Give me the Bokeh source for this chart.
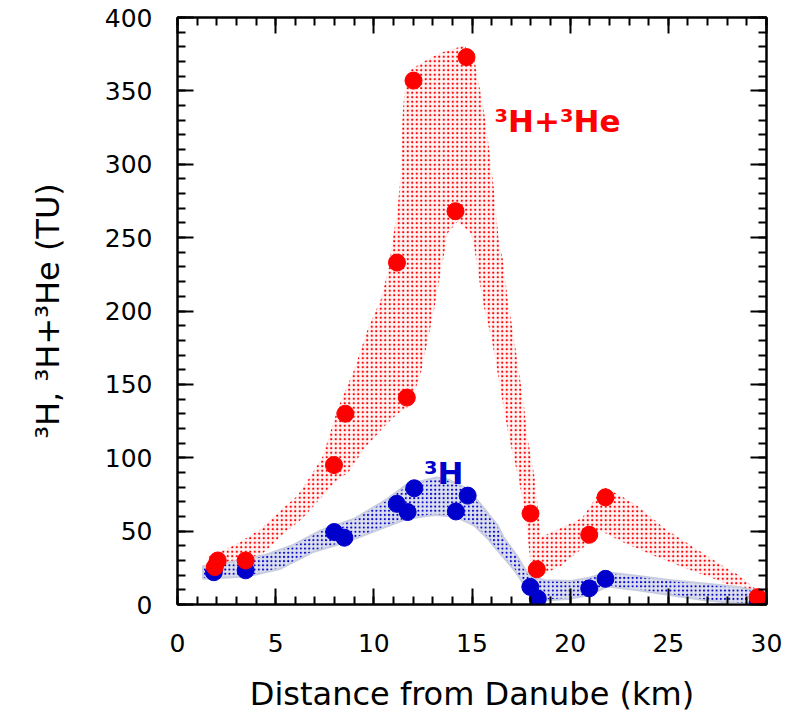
from bokeh.plotting import figure
from bokeh.models import LinearAxis, SingleIntervalTicker, Range1d, CustomJSTickFormatter
from bokeh.core.properties import value
from bokeh.embed import file_html
from bokeh.resources import INLINE

# ---- data ----
# 3H + 3He measurements (TU)
red_x = [1.9, 2.05, 3.47, 7.97, 8.55, 11.18, 11.68, 12.02, 14.16, 14.72, 17.98, 18.3, 20.97, 21.8, 29.55]
red_y = [25.5, 30.0, 30.0, 95.0, 130.0, 233.0, 141.0, 357.0, 268.0, 373.0, 62.0, 24.0, 47.5, 73.0, 5.0]

# 3H measurements (TU)
blue_x = [1.85, 3.47, 7.98, 8.5, 11.17, 11.72, 12.06, 14.18, 14.78, 17.97, 18.35, 20.97, 21.8, 29.55]
blue_y = [22.0, 23.3, 49.4, 45.5, 68.6, 63.0, 79.2, 63.4, 74.2, 12.0, 4.0, 11.0, 17.5, 1.5]

# envelope of the 3H+3He band
red_up_x = [1.5, 2.5, 3.0, 4.2, 5.4, 6.1, 6.8, 7.4, 8.15, 9.0, 9.7, 10.36, 10.7, 10.95, 11.2, 11.4,
            11.45, 11.55, 11.75, 12.4, 13.4, 14.6, 15.1, 15.6, 15.9, 16.1, 16.35, 16.6, 16.8, 17.15,
            17.4, 17.65, 17.84, 18.2, 18.35, 18.5, 19.5, 20.6, 21.7, 22.6, 23.45, 24.8, 26.3, 27.7,
            28.6, 29.4, 29.9]
red_up_y = [32, 38, 41, 51, 66, 74, 88, 101, 133, 160, 188, 208, 226, 248, 268, 298,
            330, 348, 363, 369, 376, 381, 373, 337, 308, 285, 250, 233, 210, 181,
            158, 135, 113, 86, 67, 46, 52, 59, 80, 74, 67, 52, 39, 27,
            20, 11, 4]
red_lo_x = [1.5, 2.6, 3.5, 4.2, 5.4, 6.3, 7.0, 7.6, 8.15, 8.7, 9.5, 10.5, 11.2, 11.7, 12.1, 12.4,
            12.7, 13.1, 13.4, 13.6, 13.76, 14.27, 14.95, 15.1, 15.3, 15.6, 16.0, 16.3, 16.6, 16.9,
            17.3, 17.65, 17.84, 18.0, 18.2, 18.5, 19.5, 20.6, 21.6, 22.6, 24.3, 26.0, 27.7, 29.1, 29.9]
red_lo_y = [19, 19, 24, 33, 48, 58, 68, 77, 85, 90, 106, 121, 130, 134, 146, 158,
            177, 203, 226, 240, 253, 261, 253, 245, 226, 203, 181, 158, 135, 113,
            90, 67, 45, 27, 19, 20, 26, 38, 50, 43, 33, 24, 15.6, 6, 1]

# envelope of the 3H band
blue_up_x = [1.3, 2.7, 4.4, 5.8, 7.3, 9.0, 10.7, 11.7, 12.4, 13.2, 13.8, 14.6, 15.4, 16.3, 16.6,
             17.3, 17.7, 18.0, 18.7, 20.05, 20.9, 21.9, 23.45, 25.15, 26.85, 28.55, 29.6, 29.95]
blue_up_y = [26, 29, 33.5, 40, 50.5, 58.4, 72, 82, 84, 86.5, 85, 80, 69, 54, 46,
             33, 24, 19, 16.5, 16, 18, 22, 19.5, 16.5, 14.3, 12, 8.8, 4]
blue_lo_x = [1.3, 3.56, 5.25, 6.95, 8.66, 10.36, 11.7, 13.06, 14.1, 15.1, 15.8, 16.1, 17.15,
             17.84, 18.5, 20.05, 20.9, 21.9, 23.45, 25.15, 26.85, 28.55, 29.95]
blue_lo_y = [17.6, 19, 24.4, 36, 42.8, 51.6, 58.4, 61, 60, 54, 45, 40, 23.5,
             10, 2.5, 4, 6.3, 12.2, 9.7, 6.3, 2.9, 0.7, 0]

label_x = [16.14, 12.55]
label_y = [329.6, 89.6]
label_text = ["³H+³He", "³H"]
label_color = ["#ff0000", "#0000cc"]

x_ticks_interval = 5
y_ticks_interval = 50

RED = "#ff0000"
BLUE = "#0000cc"

p = figure(width=784, height=715, output_backend="svg", toolbar_location=None,
           x_range=Range1d(0, 30), y_range=Range1d(0, 400),
           min_border_left=177, min_border_right=18, min_border_top=17, min_border_bottom=109)

p.xgrid.visible = False
p.ygrid.visible = False
p.background_fill_color = "white"
p.border_fill_color = "white"
p.outline_line_color = "black"
p.outline_line_width = 2

# bands
p.patch(red_up_x + red_lo_x[::-1], red_up_y + red_lo_y[::-1],
        fill_color="#fff4f4", fill_alpha=1.0, line_color=None,
        hatch_pattern="dot", hatch_color=RED, hatch_scale=4.5, hatch_weight=1.4)
p.patch(blue_up_x + blue_lo_x[::-1], blue_up_y + blue_lo_y[::-1],
        fill_color="#dcdfec", fill_alpha=1.0, line_color="#c9cde0", line_width=2,
        hatch_pattern="dot", hatch_color=BLUE, hatch_scale=4.2, hatch_weight=1.6)

# points
p.scatter(blue_x, blue_y, size=17, marker="circle", fill_color=BLUE, line_color=BLUE)
p.scatter(red_x, red_y, size=17, marker="circle", fill_color=RED, line_color=RED)

# labels
p.text(x=label_x, y=label_y, text=label_text, text_color=label_color,
       text_font=value("DejaVu Sans"), text_font_style="bold", text_font_size="31px",
       text_baseline="alphabetic", text_align="left")

tick_font = "25px"


def style_axis(ax, show_labels):
    ax.axis_line_color = "black"
    ax.axis_line_width = 2
    ax.major_tick_line_color = "black"
    ax.major_tick_line_width = 2
    ax.minor_tick_line_color = "black"
    ax.minor_tick_line_width = 2
    ax.major_tick_in = 16
    ax.major_tick_out = 0
    ax.minor_tick_in = 8
    ax.minor_tick_out = 0
    ax.major_label_text_font = "DejaVu Sans"
    ax.major_label_text_color = "black"
    ax.major_label_text_font_size = tick_font
    if not show_labels:
        ax.formatter = CustomJSTickFormatter(code="return '';")
        ax.major_label_standoff = 0


xt = SingleIntervalTicker(interval=x_ticks_interval, num_minor_ticks=5)
yt = SingleIntervalTicker(interval=y_ticks_interval, num_minor_ticks=5)

xa = p.xaxis[0]
ya = p.yaxis[0]
xa.ticker = xt
ya.ticker = yt
style_axis(xa, True)
style_axis(ya, True)
xa.major_label_standoff = 29
ya.major_label_standoff = 25
xa.axis_label = "Distance from Danube (km)"
ya.axis_label = "³H, ³H+³He (TU)"
for ax in (xa, ya):
    ax.axis_label_text_font = "DejaVu Sans"
    ax.axis_label_text_font_size = "32px"
    ax.axis_label_text_font_style = "normal"
    ax.axis_label_text_color = "black"
xa.axis_label_standoff = 20
ya.axis_label_standoff = 35

top = LinearAxis(ticker=SingleIntervalTicker(interval=x_ticks_interval, num_minor_ticks=5))
right = LinearAxis(ticker=SingleIntervalTicker(interval=y_ticks_interval, num_minor_ticks=5))
style_axis(top, False)
style_axis(right, False)
p.add_layout(top, "above")
p.add_layout(right, "right")

open("out.html", "w").write(file_html(p, INLINE))
